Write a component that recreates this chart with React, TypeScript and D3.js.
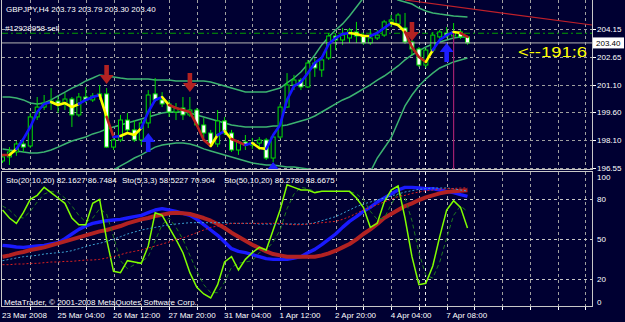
import React from 'react';
import * as d3 from 'd3';

// ---------- data ----------
const opens = [196.94,197.16,197.43,197.87,197.76,199.35,199.89,200.11,200.22,200.06,
200.33,199.46,200.44,200.28,200.50,200.61,197.70,198.09,199.18,198.64,
198.09,199.02,200.61,200.28,200.06,199.62,199.84,199.46,199.73,198.91,
198.47,197.87,199.13,198.47,197.54,197.98,197.81,197.92,198.09,197.10,
198.25,199.89,201.10,201.37,200.99,202.30,201.92,202.58,203.78,203.56,
203.67,204.00,203.78,203.40,203.67,203.83,204.55,204.44,204.22,203.45,
203.07,202.19,203.01,203.73,203.94,203.78,204.00,203.73];
const highs = [197.27,197.70,198.03,198.20,199.57,200.44,200.55,200.93,200.44,200.66,
200.44,200.66,200.99,200.66,201.10,200.93,198.25,199.46,199.57,199.18,
199.18,200.82,201.48,200.71,200.28,200.11,200.44,200.44,199.84,199.29,
198.64,199.73,199.35,198.64,198.09,198.36,198.20,198.25,198.20,198.36,
200.06,201.75,201.65,201.48,202.47,202.58,202.58,203.94,203.94,204.22,
204.22,204.55,203.94,204.11,204.11,204.66,204.93,205.04,205.04,203.56,
203.18,203.12,204.00,204.11,204.27,204.49,204.11,203.79];
const lows = [196.83,196.72,197.22,197.43,197.65,199.18,199.73,199.73,199.57,199.73,
198.80,199.35,200.11,200.17,200.28,197.65,197.54,197.98,198.53,197.98,
197.81,198.74,200.17,199.89,199.35,199.18,199.18,199.35,198.80,198.20,
197.70,197.70,198.36,197.43,197.27,197.54,197.60,197.54,196.99,196.88,
198.14,199.84,200.82,200.82,200.93,201.54,201.54,202.47,203.01,203.29,
203.40,203.40,203.29,203.29,203.56,203.73,204.27,204.27,203.34,202.74,
202.08,202.03,202.85,203.56,203.67,203.56,203.62,203.30];
const closes = [197.16,197.43,197.87,197.70,199.35,199.89,200.11,200.22,200.06,200.33,
199.46,200.44,200.28,200.50,200.61,197.70,198.09,199.18,198.64,198.09,
199.02,200.55,200.28,200.06,199.62,199.84,199.46,199.73,198.91,198.47,
197.81,199.13,198.47,197.54,197.98,197.81,197.92,198.09,197.10,198.25,
199.89,201.10,201.37,200.99,202.30,202.03,202.47,203.78,203.56,203.83,
204.11,203.78,203.40,203.67,203.83,204.55,204.66,204.93,203.45,203.07,
202.19,203.01,203.83,204.00,203.78,204.00,203.73,203.40];

const maLine = [197.27,197.27,197.60,198.14,198.80,199.62,200.06,200.17,200.00,200.11,
199.89,200.06,200.28,200.44,200.55,199.35,198.25,198.31,198.47,198.36,
198.74,199.62,200.28,200.44,200.00,199.84,199.73,199.62,198.91,198.09,
197.76,198.36,198.58,198.14,197.98,197.81,197.92,197.65,197.60,198.36,
198.91,200.28,201.04,201.26,201.75,202.30,202.58,203.34,203.67,203.89,
203.94,203.89,203.78,203.78,203.94,204.22,204.49,204.38,204.00,203.18,
202.63,202.36,203.01,203.56,203.83,204.00,203.94,203.73];
// trend of each segment: r = down, y = flat, b = up
const maTrend = ('r' + 'y' + 'bbbbb' + 'yyyy' + 'bbb' + 'y' + 'r' + 'b' + 'yyy' + 'bbb' + 'y' +
  'rrrrrr' + 'y' + 'b' + 'y' + 'rr' + 'b' + 'yy' + 'bbbbbbbbbbbb' + 'yyy' + 'bbb' + 'yy' +
  'rrr' + 'y' + 'bbb' + 'y' + 'r').split('');

const bandUpper = [200.44,200.44,200.39,200.28,200.11,200.06,200.11,200.28,200.50,200.71,
200.93,201.10,201.32,201.48,201.65,201.59,201.54,201.48,201.43,201.43,
201.43,201.43,201.37,201.37,201.37,201.32,201.32,201.32,201.32,201.32,
201.26,201.15,201.04,200.93,200.82,200.71,200.71,200.71,200.71,200.82,
200.93,201.21,201.48,201.81,202.25,202.74,203.29,203.73,204.11,204.44,
204.87,205.37,205.86,206.19,206.30,206.19,205.97,205.75,205.64,205.53,
205.31,205.15,205.04,204.98,204.93,204.87,204.85,204.82];
const bandMiddle = [197.60,197.54,197.49,197.43,197.38,197.38,197.43,197.54,197.70,197.87,
198.03,198.14,198.25,198.42,198.53,198.69,198.80,198.91,199.02,199.13,
199.24,199.35,199.46,199.57,199.62,199.62,199.62,199.57,199.46,199.35,
199.24,199.13,199.02,198.91,198.85,198.80,198.80,198.80,198.80,198.85,
198.85,198.91,199.02,199.13,199.24,199.40,199.62,199.84,200.06,200.28,
200.44,200.66,200.88,201.10,201.37,201.59,201.86,202.14,202.47,202.74,
202.96,203.18,203.34,203.45,203.56,203.67,203.73,203.73];
const bandLower = [194.80,194.64,194.59,194.75,194.91,195.02,195.02,194.91,194.97,195.02,
195.13,195.19,195.19,195.35,195.41,195.79,196.45,196.67,196.88,197.10,
197.27,197.49,197.70,197.81,197.87,197.92,197.92,197.87,197.76,197.60,
197.49,197.38,197.27,197.16,197.05,196.94,196.83,196.77,196.72,196.72,
196.67,196.61,196.61,196.56,196.50,196.39,196.17,196.01,195.90,195.90,
195.90,195.90,196.01,196.34,197.10,197.65,198.20,199.07,199.95,200.55,
201.04,201.43,201.75,202.03,202.19,202.36,202.47,202.58];

const sellArrowBars = [15, 27, 59];
const sellArrowTips = [201.15, 200.71, 203.51];
const buyArrowBars = [21, 39, 64];
const buyArrowTips = [198.47, 196.88, 203.40];

const orderPrice = 203.93;
const orderLabel = '#12928958 sell';
const trendBars = [58.0, 84.94];
const trendPrices = [205.75, 204.38];
const vlineBar = 65;
const vlineTop = 203.94;
const separatorBar = 61;

const sto20Main = [45.5,45,44.3,44,44.5,45,45.5,46.5,47.5,50.5,
54,57.5,60,62,63,64,64.5,65,66,67,
68,70,72,73,72,71,69.5,68,65,61,
57,53,48,43,41,40,38.5,37,35.5,35,
35,35,36,37,40,42.5,46,50,54,59,
63.5,67,71,74,78,81,84,87,89,89,
88.5,88,88,87,86,85,83.5,82.1627];
const sto20Signal = [37,38,39.5,40.5,42,43,44,45.5,47,48.5,
50,51.5,53,54.5,56,57,58.5,60,62,63.5,
65,66,67.5,68.5,69.5,70,69.5,69,67.5,66,
64,61.5,58.5,55,52,49,46,43.5,41,39,
38,37,37,37,37,37,38,39.5,41.5,44,
46.5,50,54,57.5,61.5,66,69,72,75,77,
79.5,81.5,83,84.5,85.5,86,86.5,86.7484];
const sto5Main = [72,66,62,70,80,83,89,85,81,77,
66,61,61,77,80,50,26,25,34,33,
32,45,70,68,59,50,40,25,14,9,
6,16,33,37,27,35,40,44,42,57,
72,91,89,87,87,85,86,86,86,86,
86,81,74,59,62,78,87,90,66,37,
16,17,30,52,72,79,74,58.5227];
const sto5Signal = [75,72,67,66,71,78,84,86,85,81,
75,68,63,66,73,69,52,34,28,31,
33,37,49,61,66,59,50,38,26,16,
10,10,18,29,32,33,34,40,42,48,
57,73,84,89,88,86,86,86,86,86,
86,84,80,71,65,66,76,85,81,64,
40,23,21,33,51,68,75,70.904];
const sto50Main = [34,35,36,37,37.5,38,39,39.5,40,40.5,
41.5,43,44.5,46,47,48.5,50,52,54,55.5,
57,58,59,60,61,61.5,62,62.5,62.5,62.5,
62.5,62.5,62.5,62,62,62,62,61.5,61.5,61.5,
61.5,61.5,61.5,61.5,61.5,62.5,64,65.5,67,69.5,
72,74.5,76.5,78,79.5,81,82.5,84,85.5,86.5,
87.5,88,88.5,88.5,88.5,88,87,86.278];
const sto50Signal = [31,31,31.5,31.5,32,32,32.5,33,33,33.5,
33.5,34,34.5,34.5,35,36,37,38.5,40,41,
42,43.5,45,46.5,48,50,51,53,55,57,
59,60,61,62,62,62,62,62,62,62,
62,61.5,61,61,61.5,62,62.5,63,63.5,65,
67,69.5,72,74,76,78,80,82,83,84.5,
85.5,86.5,87,87.5,88,88.2,88.5,88.6675];

const priceTicks = [204.15, 202.65, 201.10, 199.60, 198.10, 196.55];
const stoTicks = [100, 80, 50, 20, 0];
const stoLevels = [80, 50, 20];
const timeLabelBars = [0, 8, 16, 24, 32, 40, 48, 56, 64];
const timeLabels = ['23 Mar 2008', '25 Mar 04:00', '26 Mar 12:00', '27 Mar 20:00', '31 Mar 04:00',
  '1 Apr 12:00', '2 Apr 20:00', '4 Apr 04:00', '7 Apr 08:00'];
const signalText = '<--191:6';

// ---------- layout ----------
const W = 625, H = 322;
const PL = 2, PR = 592;
const MT = 0, MB = 169;
const ST = 172, SB = 306;
const BG = '#000032';
const FONT = 'Liberation Sans, Arial, sans-serif';
const GRID = '#a0a0a0';
const CANDLE = '#00dd00';

const x = d3.scaleLinear().domain([0, 67]).range([2.5, 2.5 + 6.94 * 67]);
const y = d3.scaleLinear().domain([196.5, 205.75]).range([MB, MT]);
const ys = d3.scaleLinear().domain([0, 100]).range([SB, 172.7]);

const trendColor: Record<string, string> = { r: '#b8201c', y: '#ffff00', b: '#1414ff' };

function downArrow(cx: number, tipY: number) {
  return `M${cx - 2.3},${tipY - 19} L${cx + 2.3},${tipY - 19} L${cx + 2.3},${tipY - 9} L${cx + 7},${tipY - 9} L${cx},${tipY} L${cx - 7},${tipY - 9} L${cx - 2.3},${tipY - 9} Z`;
}
function upArrow(cx: number, tipY: number) {
  return `M${cx - 2.3},${tipY + 19} L${cx + 2.3},${tipY + 19} L${cx + 2.3},${tipY + 9} L${cx + 7},${tipY + 9} L${cx},${tipY} L${cx - 7},${tipY + 9} L${cx - 2.3},${tipY + 9} Z`;
}

export default function App() {
  const idx = d3.range(opens.length);
  const priceLine = (arr: number[]) =>
    d3.line<number>().x((i) => x(i)).y((i) => y(arr[i]))(idx) || '';
  const stoLine = (arr: number[]) =>
    d3.line<number>().x((i) => x(i)).y((i) => ys(arr[i]))(idx) || '';

  const runs: { t: string; pts: number[] }[] = [];
  let s = 0;
  for (let k = 1; k <= maTrend.length; k++) {
    if (k === maTrend.length || maTrend[k] !== maTrend[s]) {
      runs.push({ t: maTrend[s], pts: d3.range(s, k + 1) });
      s = k;
    }
  }
  const maGen = d3.line<number>().x((i) => x(i)).y((i) => y(maLine[i]));

  const gridBars = d3.range(4, 86, 4).filter((b) => x(b) < PR - 2);
  const last = opens.length - 1;
  const header = `GBPJPY,H4  ${opens[last].toFixed(2)} ${highs[last].toFixed(2)} ${lows[last].toFixed(2)} ${closes[last].toFixed(2)}`;
  const fmt4 = (v: number) => v.toFixed(4);

  return (
    <svg width={W} height={H} style={{ position: 'absolute', left: 0, top: 0, display: 'block' }}>
      <defs>
        <clipPath id="mainClip"><rect x={PL} y={MT} width={PR - PL} height={MB - MT} /></clipPath>
        <clipPath id="subClip"><rect x={PL} y={ST} width={PR - PL} height={SB - ST} /></clipPath>
      </defs>
      <rect x={0} y={0} width={W} height={H} fill={BG} />

      <g stroke={GRID} strokeWidth={1} strokeDasharray="3,3" shapeRendering="crispEdges">
        {gridBars.map((b) => (
          <g key={'vg' + b}>
            <line x1={Math.round(x(b)) + 0.5} x2={Math.round(x(b)) + 0.5} y1={MT} y2={MB} />
            <line x1={Math.round(x(b)) + 0.5} x2={Math.round(x(b)) + 0.5} y1={ST} y2={SB} />
          </g>
        ))}
        {priceTicks.map((p) => (
          <line key={'hg' + p} x1={PL} x2={PR} y1={Math.round(y(p)) + 0.5} y2={Math.round(y(p)) + 0.5} />
        ))}
        {stoLevels.map((v) => (
          <line key={'sl' + v} x1={PL} x2={PR} y1={Math.round(ys(v)) + 0.5} y2={Math.round(ys(v)) + 0.5} stroke="#c8c8c8" />
        ))}
      </g>
      <g stroke="#f0f0f0" strokeDasharray="3,3" shapeRendering="crispEdges">
        <line x1={Math.round(x(separatorBar)) - 0.5} x2={Math.round(x(separatorBar)) - 0.5} y1={MT} y2={MB} />
        <line x1={Math.round(x(separatorBar)) - 0.5} x2={Math.round(x(separatorBar)) - 0.5} y1={ST} y2={SB} />
      </g>

      <g clipPath="url(#mainClip)">
        {[bandUpper, bandMiddle, bandLower].map((arr, k) => (
          <path key={'band' + k} d={priceLine(arr)} fill="none" stroke="#3cb371" strokeWidth={1.5} />
        ))}
        <line x1={PL} x2={PR} y1={y(orderPrice)} y2={y(orderPrice)} stroke="#00a000" strokeWidth={1} strokeDasharray="6,3,2,3" />
        {idx.map((i) => {
          const o = opens[i], c = closes[i];
          const bull = c >= o;
          const top = y(Math.max(o, c));
          const h = Math.max(1, Math.abs(y(o) - y(c)));
          return (
            <g key={'c' + i}>
              <line x1={x(i)} x2={x(i)} y1={y(highs[i])} y2={y(lows[i])} stroke={CANDLE} strokeWidth={1} />
              <rect x={x(i) - 2} y={top} width={4} height={h} fill={bull ? BG : '#ffffff'} stroke={CANDLE} strokeWidth={1} />
            </g>
          );
        })}
        <line x1={PL} x2={PR} y1={y(closes[last])} y2={y(closes[last])} stroke="#b4b4b4" strokeWidth={1} />
        {runs.map((r, k) => (
          <path key={'ma' + k} d={maGen(r.pts) || ''} fill="none" stroke={trendColor[r.t]} strokeWidth={2.6} strokeLinejoin="round" strokeLinecap="round" />
        ))}
        {sellArrowBars.map((b, k) => (
          <path key={'sa' + k} d={downArrow(x(b), y(sellArrowTips[k]))} fill="#b22222" />
        ))}
        {buyArrowBars.map((b, k) => (
          <path key={'ba' + k} d={upArrow(x(b), y(buyArrowTips[k]))} fill="#1e1eff" />
        ))}
        <line x1={x(trendBars[0])} y1={y(trendPrices[0])} x2={x(trendBars[1])} y2={y(trendPrices[1])} stroke="#c0202a" strokeWidth={1.2} />
        <line x1={x(vlineBar)} x2={x(vlineBar)} y1={y(vlineTop)} y2={MB} stroke="#a0206e" strokeWidth={1.2} />
      </g>

      <g clipPath="url(#subClip)" fill="none">
        <path d={stoLine(sto20Main)} stroke="#1a1aff" strokeWidth={3.4} strokeLinejoin="round" />
        <path d={stoLine(sto20Signal)} stroke="#b22222" strokeWidth={4} strokeLinejoin="round" />
        <path d={stoLine(sto5Signal)} stroke="#1f7a1f" strokeWidth={1} strokeDasharray="4,3" />
        <path d={stoLine(sto5Main)} stroke="#80ff00" strokeWidth={1.5} strokeLinejoin="miter" />
        <path d={stoLine(sto50Main)} stroke="#3a9fd0" strokeWidth={1} strokeDasharray="2,2" />
        <path d={stoLine(sto50Signal)} stroke="#e02020" strokeWidth={1} strokeDasharray="2,2" />
      </g>

      <g stroke="#c8c8c8" strokeWidth={1} fill="none" shapeRendering="crispEdges">
        <line x1={PL - 0.5} x2={PL - 0.5} y1={MT} y2={MB} />
        <line x1={PR + 0.5} x2={PR + 0.5} y1={MT} y2={MB + 0.5} />
        <line x1={PL - 0.5} x2={PR + 0.5} y1={MB + 0.5} y2={MB + 0.5} />
        <rect x={PL - 0.5} y={ST - 0.5} width={PR - PL + 1} height={SB - ST + 1} />
      </g>

      <g fontFamily={FONT} fontSize={8} fill="#ffffff">
        <text x={6} y={12}>{header}</text>
        <text x={5} y={31}>{orderLabel}</text>
        <text x={6} y={183}>{`Sto(20,10,20) ${fmt4(sto20Main[last])} ${fmt4(sto20Signal[last])}`}</text>
        <text x={122} y={183}>{`Sto(5,3,3) ${fmt4(sto5Main[last])} ${String(sto5Signal[last])}`}</text>
        <text x={224} y={183}>{`Sto(50,10,20) ${fmt4(sto50Main[last])} ${fmt4(sto50Signal[last])}`}</text>
        <text x={4} y={305}>MetaTrader, © 2001-2008 MetaQuotes Software Corp.</text>
        {priceTicks.map((p) => (
          <g key={'pt' + p}>
            <line x1={PR + 1} x2={PR + 4} y1={Math.round(y(p)) + 0.5} y2={Math.round(y(p)) + 0.5} stroke="#ffffff" />
            <text x={597} y={y(p) + 3}>{p.toFixed(2)}</text>
          </g>
        ))}
        <rect x={593} y={y(closes[last]) - 5.5} width={31} height={11} fill="#ffffff" />
        <text x={596} y={y(closes[last]) + 3} fill="#000000">{closes[last].toFixed(2)}</text>
        {stoTicks.map((v) => {
          const cy = Math.min(302, Math.max(177, ys(v)));
          return <text key={'st' + v} x={597} y={cy + 3}>{String(v)}</text>;
        })}
        {timeLabelBars.map((b, k) => (
          <text key={'tl' + b} x={x(b) - 0.5} y={318}>{timeLabels[k]}</text>
        ))}
        {gridBars.map((b) => (
          <line key={'tk' + b} x1={Math.round(x(b)) + 0.5} x2={Math.round(x(b)) + 0.5} y1={SB + 1} y2={SB + 4} stroke="#ffffff" />
        ))}
      </g>
      <text x={518} y={57} fontFamily={FONT} fontSize={15} fill="#ffff00" textLength={69} lengthAdjust="spacingAndGlyphs">{signalText}</text>
    </svg>
  );
}
